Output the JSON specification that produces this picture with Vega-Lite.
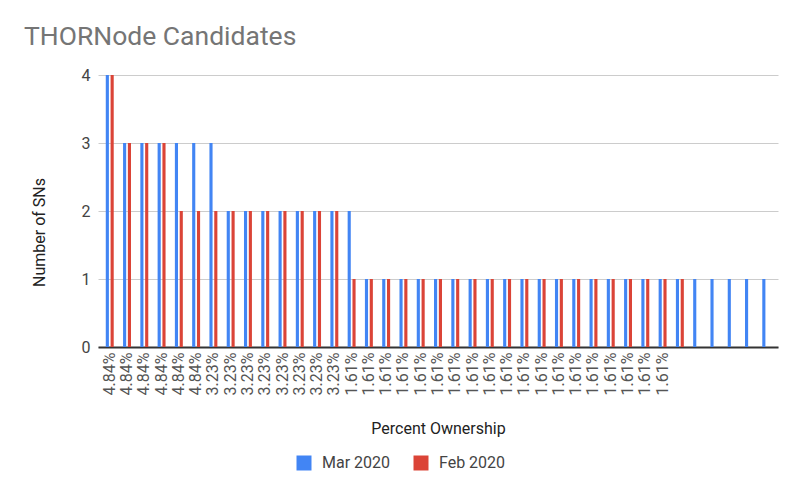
{
  "$schema": "https://vega.github.io/schema/vega-lite/v6.json",
  "autosize": {"type": "none"},
  "padding": {"left": 98, "top": 75, "right": 22, "bottom": 147},
  "width": 680,
  "height": 272,
  "title": {
    "text": "THORNode Candidates",
    "anchor": "start",
    "frame": "group",
    "dx": -74,
    "offset": 17,
    "font": "Roboto",
    "fontSize": 26.5,
    "fontWeight": "normal",
    "color": "#757575"
  },
  "data": {
    "values": [
      {"slot": "4.84%|1", "series": "Mar 2020", "count": 4},
      {"slot": "4.84%|1", "series": "Feb 2020", "count": 4},
      {"slot": "4.84%|2", "series": "Mar 2020", "count": 3},
      {"slot": "4.84%|2", "series": "Feb 2020", "count": 3},
      {"slot": "4.84%|3", "series": "Mar 2020", "count": 3},
      {"slot": "4.84%|3", "series": "Feb 2020", "count": 3},
      {"slot": "4.84%|4", "series": "Mar 2020", "count": 3},
      {"slot": "4.84%|4", "series": "Feb 2020", "count": 3},
      {"slot": "4.84%|5", "series": "Mar 2020", "count": 3},
      {"slot": "4.84%|5", "series": "Feb 2020", "count": 2},
      {"slot": "4.84%|6", "series": "Mar 2020", "count": 3},
      {"slot": "4.84%|6", "series": "Feb 2020", "count": 2},
      {"slot": "3.23%|7", "series": "Mar 2020", "count": 3},
      {"slot": "3.23%|7", "series": "Feb 2020", "count": 2},
      {"slot": "3.23%|8", "series": "Mar 2020", "count": 2},
      {"slot": "3.23%|8", "series": "Feb 2020", "count": 2},
      {"slot": "3.23%|9", "series": "Mar 2020", "count": 2},
      {"slot": "3.23%|9", "series": "Feb 2020", "count": 2},
      {"slot": "3.23%|10", "series": "Mar 2020", "count": 2},
      {"slot": "3.23%|10", "series": "Feb 2020", "count": 2},
      {"slot": "3.23%|11", "series": "Mar 2020", "count": 2},
      {"slot": "3.23%|11", "series": "Feb 2020", "count": 2},
      {"slot": "3.23%|12", "series": "Mar 2020", "count": 2},
      {"slot": "3.23%|12", "series": "Feb 2020", "count": 2},
      {"slot": "3.23%|13", "series": "Mar 2020", "count": 2},
      {"slot": "3.23%|13", "series": "Feb 2020", "count": 2},
      {"slot": "3.23%|14", "series": "Mar 2020", "count": 2},
      {"slot": "3.23%|14", "series": "Feb 2020", "count": 2},
      {"slot": "1.61%|15", "series": "Mar 2020", "count": 2},
      {"slot": "1.61%|15", "series": "Feb 2020", "count": 1},
      {"slot": "1.61%|16", "series": "Mar 2020", "count": 1},
      {"slot": "1.61%|16", "series": "Feb 2020", "count": 1},
      {"slot": "1.61%|17", "series": "Mar 2020", "count": 1},
      {"slot": "1.61%|17", "series": "Feb 2020", "count": 1},
      {"slot": "1.61%|18", "series": "Mar 2020", "count": 1},
      {"slot": "1.61%|18", "series": "Feb 2020", "count": 1},
      {"slot": "1.61%|19", "series": "Mar 2020", "count": 1},
      {"slot": "1.61%|19", "series": "Feb 2020", "count": 1},
      {"slot": "1.61%|20", "series": "Mar 2020", "count": 1},
      {"slot": "1.61%|20", "series": "Feb 2020", "count": 1},
      {"slot": "1.61%|21", "series": "Mar 2020", "count": 1},
      {"slot": "1.61%|21", "series": "Feb 2020", "count": 1},
      {"slot": "1.61%|22", "series": "Mar 2020", "count": 1},
      {"slot": "1.61%|22", "series": "Feb 2020", "count": 1},
      {"slot": "1.61%|23", "series": "Mar 2020", "count": 1},
      {"slot": "1.61%|23", "series": "Feb 2020", "count": 1},
      {"slot": "1.61%|24", "series": "Mar 2020", "count": 1},
      {"slot": "1.61%|24", "series": "Feb 2020", "count": 1},
      {"slot": "1.61%|25", "series": "Mar 2020", "count": 1},
      {"slot": "1.61%|25", "series": "Feb 2020", "count": 1},
      {"slot": "1.61%|26", "series": "Mar 2020", "count": 1},
      {"slot": "1.61%|26", "series": "Feb 2020", "count": 1},
      {"slot": "1.61%|27", "series": "Mar 2020", "count": 1},
      {"slot": "1.61%|27", "series": "Feb 2020", "count": 1},
      {"slot": "1.61%|28", "series": "Mar 2020", "count": 1},
      {"slot": "1.61%|28", "series": "Feb 2020", "count": 1},
      {"slot": "1.61%|29", "series": "Mar 2020", "count": 1},
      {"slot": "1.61%|29", "series": "Feb 2020", "count": 1},
      {"slot": "1.61%|30", "series": "Mar 2020", "count": 1},
      {"slot": "1.61%|30", "series": "Feb 2020", "count": 1},
      {"slot": "1.61%|31", "series": "Mar 2020", "count": 1},
      {"slot": "1.61%|31", "series": "Feb 2020", "count": 1},
      {"slot": "1.61%|32", "series": "Mar 2020", "count": 1},
      {"slot": "1.61%|32", "series": "Feb 2020", "count": 1},
      {"slot": "1.61%|33", "series": "Mar 2020", "count": 1},
      {"slot": "1.61%|33", "series": "Feb 2020", "count": 1},
      {"slot": "|34", "series": "Mar 2020", "count": 1},
      {"slot": "|34", "series": "Feb 2020", "count": 1},
      {"slot": "|35", "series": "Mar 2020", "count": 1},
      {"slot": "|36", "series": "Mar 2020", "count": 1},
      {"slot": "|37", "series": "Mar 2020", "count": 1},
      {"slot": "|38", "series": "Mar 2020", "count": 1},
      {"slot": "|39", "series": "Mar 2020", "count": 1}
    ]
  },
  "mark": "bar",
  "encoding": {
    "x": {
      "field": "slot",
      "type": "nominal",
      "sort": null,
      "scale": {"paddingInner": 0.54, "paddingOuter": 0.45},
      "axis": {
        "title": "Percent Ownership",
        "labelExpr": "split(datum.label, '|')[0]",
        "labelAngle": 270,
        "labelAlign": "right",
        "labelBaseline": "middle",
        "labelFontSize": 16,
        "labelColor": "#555555",
        "labelPadding": 5,
        "labelOverlap": false,
        "ticks": false,
        "domainColor": "#333333",
        "domainWidth": 2,
        "titlePadding": 26
      }
    },
    "xOffset": {
      "field": "series",
      "type": "nominal",
      "sort": ["Mar 2020", "Feb 2020"],
      "scale": {"paddingInner": 0.35}
    },
    "y": {
      "field": "count",
      "type": "quantitative",
      "scale": {"domain": [0, 4]},
      "axis": {
        "title": "Number of SNs",
        "values": [0, 1, 2, 3, 4],
        "labelOverlap": false,
        "domain": false,
        "ticks": false,
        "gridColor": "#cccccc",
        "labelFontSize": 16,
        "labelColor": "#444444",
        "labelPadding": 8,
        "titlePadding": 34,
        "titleY": 157
      }
    },
    "color": {
      "field": "series",
      "type": "nominal",
      "sort": ["Mar 2020", "Feb 2020"],
      "scale": {"domain": ["Mar 2020", "Feb 2020"], "range": ["#4285F4", "#DB4437"]},
      "legend": {
        "title": null,
        "orient": "none",
        "legendX": 198,
        "legendY": 380,
        "direction": "horizontal",
        "symbolType": "square",
        "symbolSize": 225,
        "symbolStrokeWidth": 0,
        "labelFontSize": 16,
        "labelColor": "#444444",
        "labelOffset": 10,
        "columnPadding": 22
      }
    }
  },
  "config": {
    "font": "Roboto",
    "view": {"stroke": null},
    "axis": {
      "titleFontSize": 16,
      "titleFontWeight": "normal",
      "titleColor": "#222222",
      "labelFont": "Roboto",
      "titleFont": "Roboto"
    },
    "legend": {"labelFont": "Roboto"}
  }
}
